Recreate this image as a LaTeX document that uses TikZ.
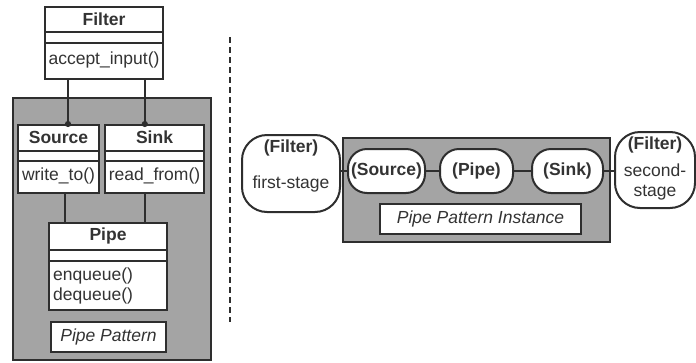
\documentclass[tikz,border=0pt]{standalone}
\usepackage{fontspec}
\setmainfont{Liberation Sans}
\usepackage{tikz}
\usetikzlibrary{arrows.meta,calc,positioning}

\definecolor{linec}{HTML}{2E2E2E}
\definecolor{shade}{HTML}{A4A4A4}
\definecolor{textc}{HTML}{333333}

\begin{document}
\begin{tikzpicture}[x=1pt, y=-1pt,
    every node/.style={font=\fontsize{17.5}{20}\selectfont, text=textc},
    group/.style={draw=linec, line width=2pt, fill=shade, inner sep=0pt},
    classbox/.style={draw=linec, line width=2pt, fill=white, inner sep=0pt},
    cname/.style={font=\fontsize{17.5}{20}\selectfont\bfseries},
    tag/.style={font=\fontsize{17.5}{20}\selectfont\itshape},
    pill/.style={draw=linec, line width=2pt, fill=white, rounded corners=19pt, inner sep=0pt},
    stage/.style={pill, rounded corners=25pt},
    sep/.style={draw=linec, line width=2pt},
    link/.style={draw=linec, line width=2pt},
    assoc/.style={draw=linec, line width=2pt, -{Circle[length=6pt]}, shorten >=-3pt}]
    \useasboundingbox (0,0) rectangle (696,362);

    % ---- left: class diagram ----
    \node[group, minimum width=198, minimum height=262] (pattern) at (112,229) {};

    \node[classbox, minimum width=118, minimum height=72] (filter) at (104,43) {};
    \foreach \d in {26,37}
        \draw[sep] ($(filter.north west)+(0,\d)$) -- ($(filter.north east)+(0,\d)$);
    \node[cname] (filter-name) at ($(filter.north)+(0,13)$) {Filter};
    \node (filter-ops) at ($(filter.north)+(0,54)$) {accept\_input()};

    \node[classbox, minimum width=81, minimum height=68] (source) at (58.5,159) {};
    \node[classbox, minimum width=99, minimum height=68] (sink) at (154.5,159) {};
    \foreach \c in {source,sink}
        \foreach \d in {27,37}
            \draw[sep] ($(\c.north west)+(0,\d)$) -- ($(\c.north east)+(0,\d)$);
    \node[cname] (source-name) at ($(source.north)+(0,13.5)$) {Source};
    \node (source-ops) at ($(source.north)+(0,52)$) {write\_to()};
    \node[cname] (sink-name) at ($(sink.north)+(0,13.5)$) {Sink};
    \node (sink-ops) at ($(sink.north)+(0,52)$) {read\_from()};

    \node[classbox, minimum width=118, minimum height=87] (pipe) at (108,266.5) {};
    \foreach \d in {28,39}
        \draw[sep] ($(pipe.north west)+(0,\d)$) -- ($(pipe.north east)+(0,\d)$);
    \node[cname] (pipe-name) at ($(pipe.north)+(0,14)$) {Pipe};
    \node[anchor=west, align=left, inner sep=0pt] (pipe-ops) at ($(pipe.west)+(5,19.5)$) {enqueue()\\dequeue()};

    \node[classbox, tag, minimum width=115, minimum height=30] (pattern-tag) at (108.5,337) {Pipe Pattern};

    % associations
    \coordinate (f1) at ($(filter.south west)!0.2!(filter.south east)$);
    \coordinate (f2) at ($(filter.south west)!0.84!(filter.south east)$);
    \draw[assoc] (f1) -- (f1 |- source.north);
    \draw[assoc] (f2) -- (f2 |- sink.north);
    \coordinate (p1) at ($(pipe.north west)!0.144!(pipe.north east)$);
    \coordinate (p2) at ($(pipe.north west)!0.81!(pipe.north east)$);
    \draw[link] (p1 |- source.south) -- (p1);
    \draw[link] (p2 |- sink.south) -- (p2);

    % divider
    \draw[linec, line width=2pt, dash pattern=on 6pt off 4pt] (230,37) -- (230,322);

    % ---- right: instance ----
    \node[group, minimum width=267, minimum height=104] (instance) at (476.5,190) {};

    \node[stage, minimum width=98, minimum height=77] (first) at (291,173.5) {};
    \node[cname] (first-name) at ($(first.north)+(0,14)$) {(Filter)};
    \node (first-role) at ($(first.north)+(0,50)$) {first-stage};

    \node[stage, minimum width=80, minimum height=76] (second) at (655,170) {};
    \node[cname] (second-name) at ($(second.north)+(0,14)$) {(Filter)};
    \node[align=center] (second-role) at ($(second.north)+(0,51)$) {second-\\stage};

    \node[pill, cname, minimum width=77, minimum height=44] (isource) at (386.5,171) {(Source)};
    \node[pill, cname, minimum width=73, minimum height=44] (ipipe) at (476.5,171) {(Pipe)};
    \node[pill, cname, minimum width=71, minimum height=44] (isink) at (567.5,171) {(Sink)};

    \node[classbox, tag, minimum width=201, minimum height=30] (instance-tag) at (480.5,219) {Pipe Pattern Instance};

    \draw[link] (isource.west) -- (isource.west -| first.east);
    \draw[link] (isource) -- (ipipe);
    \draw[link] (ipipe) -- (isink);
    \draw[link] (isink.east) -- (isink.east -| second.west);
\end{tikzpicture}
\end{document}
